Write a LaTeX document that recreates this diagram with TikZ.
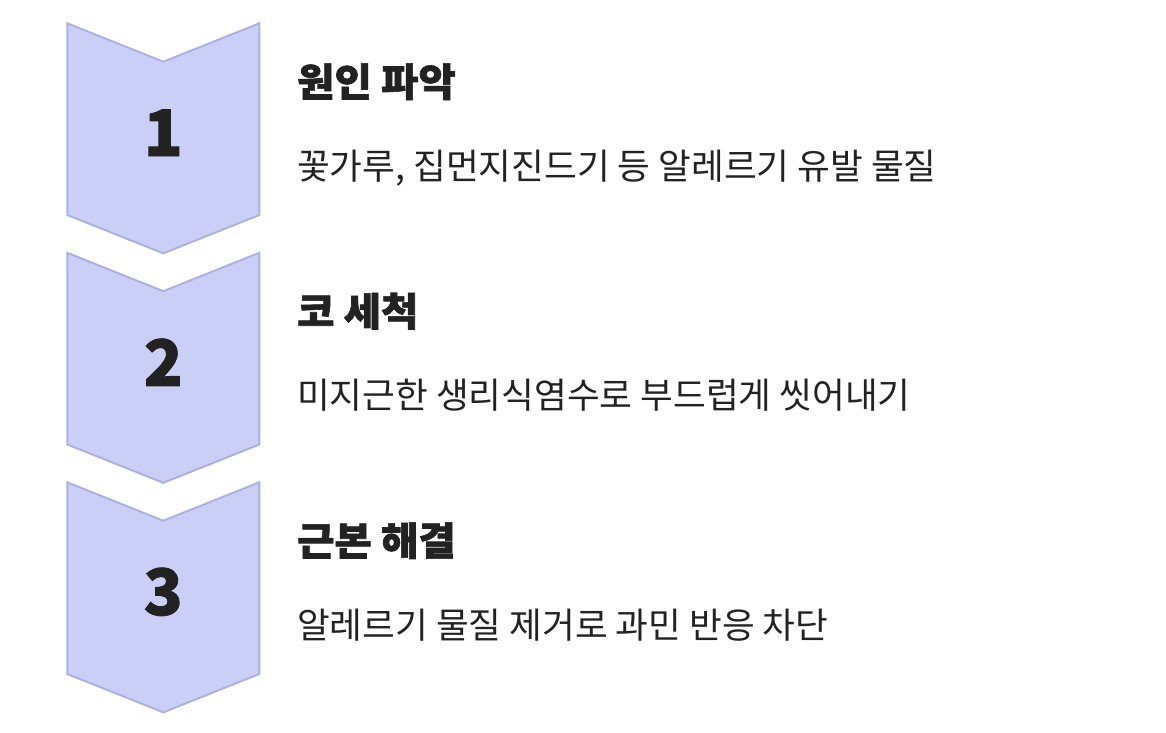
\documentclass[tikz,border=0pt]{standalone}
\usepackage{fontspec}
\setmainfont{Noto Sans CJK KR}
\newfontfamily\kr{Noto Sans CJK KR}
\newfontfamily\krblack[FakeBold=1.6,FakeStretch=1.04]{Noto Sans CJK KR Black}
\newfontfamily\krnum[FakeBold=1.4]{Noto Sans CJK KR Black}
\definecolor{chevfill}{RGB}{203,207,248}
\definecolor{chevline}{RGB}{172,177,226}
\definecolor{ink}{RGB}{34,34,34}
\tikzset{
  chev/.style={fill=chevfill,draw=chevline,line width=2pt,line join=miter},
  numtxt/.style={inner sep=0pt,anchor=center,text=ink,font=\krnum\fontsize{64}{64}\selectfont},
  titletxt/.style={inner sep=0pt,anchor=base west,text=ink,font=\krblack\fontsize{39}{39}\selectfont},
  bodytxt/.style={inner sep=0pt,anchor=base west,text=ink,font=\kr\fontsize{35.6}{36}\selectfont}
}
\begin{document}
\begin{tikzpicture}[x=1pt,y=-1pt]
\useasboundingbox (0,0) rectangle (1166,732);
\foreach \t/\n/\ti/\bo [count=\i] in {
  23.3/1/원인 파악/{꽃가루, 집먼지진드기 등 알레르기 유발 물질},
  252.8/2/코 세척/미지근한 생리식염수로 부드럽게 씻어내기,
  482.3/3/근본 해결/알레르기 물질 제거로 과민 반응 차단}{
  \draw[chev] (67.3,\t) -- (163.3,\t+38.4) -- (259.3,\t) -- (259.3,\t+191.7)
     -- (163.3,\t+230) -- (67.3,\t+191.7) -- cycle;
  \node[numtxt] (num\i) at (163.3,\t+109.5) {\n};
  \node[titletxt] (title\i) at (297,\t+73) {\ti};
  \node[bodytxt] (body\i) at (297,\t+156) {\bo};
}
\end{tikzpicture}
\end{document}
